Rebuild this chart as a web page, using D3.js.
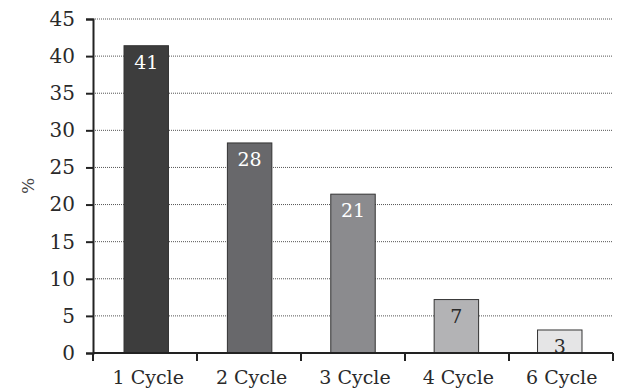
<!DOCTYPE html>
<html>
<head>
<meta charset="utf-8">
<script src="https://cdn.jsdelivr.net/npm/d3@7"></script>
<style>
  body { margin: 0; background: #fff; }
  text { font-family: "DejaVu Serif", "Liberation Serif", serif; }
</style>
</head>
<body>
<div id="chart"></div>
<script>
// data
var categories = ["1 Cycle", "2 Cycle", "3 Cycle", "4 Cycle", "6 Cycle"];
var values = [41.4, 28.3, 21.4, 7.2, 3.1];
var labels = ["41", "28", "21", "7", "3"];
var yTicks = [0, 5, 10, 15, 20, 25, 30, 35, 40, 45];
var fills = ["#3d3d3d", "#68686b", "#8b8b8e", "#b3b3b5", "#e5e5e6"];
var labelColors = ["#fff", "#fff", "#fff", "#2a2a2a", "#2a2a2a"];

var width = 619, height = 389;
var margin = { top: 19, right: 6, bottom: 36, left: 93 };

var svg = d3.select("#chart").append("svg")
    .attr("width", width)
    .attr("height", height);

var x = d3.scaleBand()
    .domain(categories)
    .range([margin.left, width - margin.right])
    .paddingInner(0.57)
    .paddingOuter(0.3);

var y = d3.scaleLinear()
    .domain([0, 45])
    .range([height - margin.bottom, margin.top]);

// dotted gridlines
svg.append("g")
    .selectAll("line")
    .data(yTicks.slice(1))
    .enter().append("line")
    .attr("x1", margin.left)
    .attr("x2", width - margin.right)
    .attr("y1", function(d) { return y(d); })
    .attr("y2", function(d) { return y(d); })
    .attr("stroke", "#555")
    .attr("stroke-width", 1)
    .attr("stroke-dasharray", "1,1");

// bars
var rows = categories.map(function(c, i) { return { cat: c, v: values[i], i: i }; });

svg.append("g")
    .selectAll("rect")
    .data(rows)
    .enter().append("rect")
    .attr("x", function(d) { return x(d.cat); })
    .attr("y", function(d) { return y(d.v); })
    .attr("width", x.bandwidth())
    .attr("height", function(d) { return y(0) - y(d.v); })
    .attr("fill", function(d) { return fills[d.i]; })
    .attr("stroke", "#333")
    .attr("stroke-width", 1);

// value labels inside bar tops
svg.append("g")
    .selectAll("text")
    .data(rows)
    .enter().append("text")
    .attr("x", function(d) { return x(d.cat) + x.bandwidth() / 2; })
    .attr("y", function(d) { return y(d.v) + 23; })
    .attr("text-anchor", "middle")
    .attr("font-size", 19)
    .attr("fill", function(d) { return labelColors[d.i]; })
    .text(function(d) { return labels[d.i]; });

// y axis
var yAxis = svg.append("g")
    .attr("transform", "translate(" + margin.left + ",0)")
    .call(d3.axisLeft(y).tickValues(yTicks).tickSize(7).tickSizeOuter(7).tickPadding(11));
yAxis.selectAll("text").attr("font-size", 20).attr("fill", "#2a2a2a")
    .style("font-family", "DejaVu Serif");
yAxis.selectAll("line, path").attr("stroke", "#222").attr("stroke-width", 2);

// x axis, ticks between categories
var xAxis = svg.append("g")
    .attr("transform", "translate(0," + y(0) + ")");
xAxis.append("line")
    .attr("x1", margin.left)
    .attr("x2", width - margin.right)
    .attr("stroke", "#222")
    .attr("stroke-width", 2);

var span = (width - margin.right - margin.left) / categories.length;
var edges = d3.range(categories.length + 1).map(function(i) {
    return margin.left + i * span;
});
xAxis.selectAll(".edge")
    .data(edges)
    .enter().append("line")
    .attr("class", "edge")
    .attr("x1", function(d) { return d; })
    .attr("x2", function(d) { return d; })
    .attr("y1", 0)
    .attr("y2", 8)
    .attr("stroke", "#222")
    .attr("stroke-width", 2);

xAxis.selectAll(".cat")
    .data(categories)
    .enter().append("text")
    .attr("class", "cat")
    .attr("x", function(d) { return x(d) + x.bandwidth() / 2 + 2; })
    .attr("y", 31)
    .attr("text-anchor", "middle")
    .attr("font-size", 19)
    .attr("fill", "#2a2a2a")
    .text(function(d) { return d; });

// y axis title
svg.append("text")
    .attr("transform", "translate(34," + (y(22.5)) + ") rotate(-90)")
    .attr("text-anchor", "middle")
    .attr("font-size", 17)
    .attr("fill", "#444")
    .text("%");
</script>
</body>
</html>
